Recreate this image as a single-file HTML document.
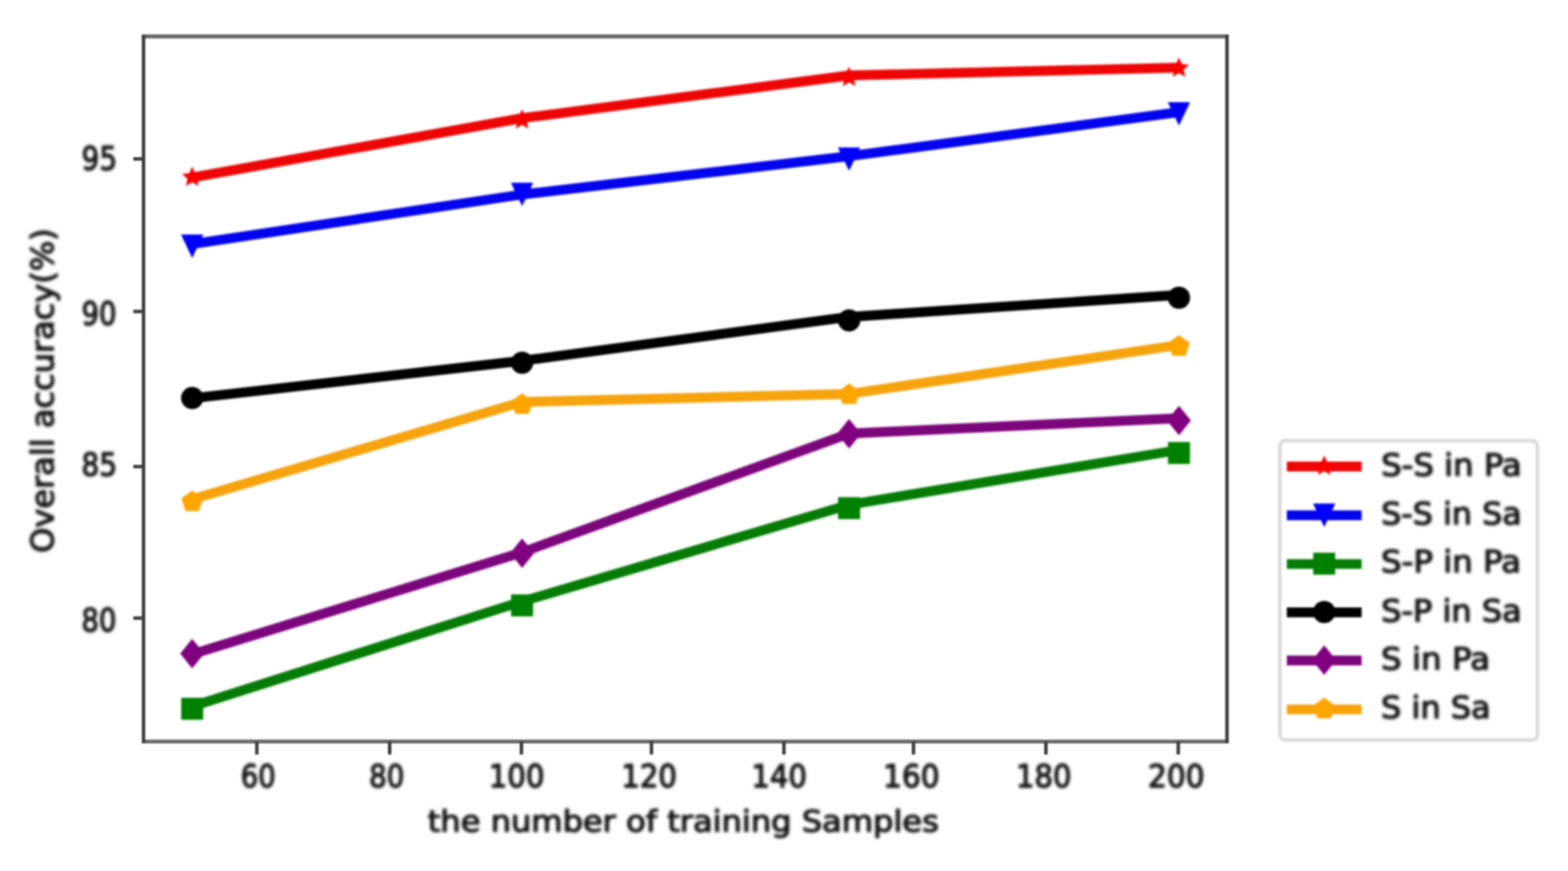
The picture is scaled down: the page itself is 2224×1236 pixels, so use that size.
<!DOCTYPE html>
<html lang="en"><head><meta charset="utf-8"><title>Overall accuracy vs. number of training samples</title>
<style>
html,body{margin:0;padding:0;background:#fff;}
body{width:2224px;height:1236px;overflow:hidden;}
svg{display:block;}
text{font-family:"DejaVu Sans","Liberation Sans",sans-serif;font-size:50px;fill:#141414;stroke:#141414;stroke-width:2.0;stroke-linejoin:round;text-rendering:geometricPrecision;}
</style></head><body>
<svg width="2224" height="1236" viewBox="0 0 2224 1236">
<defs><filter id="b" x="-2%" y="-2%" width="104%" height="104%" color-interpolation-filters="sRGB"><feGaussianBlur stdDeviation="1.9"/></filter><filter id="f" x="-2%" y="-2%" width="104%" height="104%" color-interpolation-filters="sRGB"><feGaussianBlur stdDeviation="1.0"/></filter><filter id="s" x="-2%" y="-2%" width="104%" height="104%" color-interpolation-filters="sRGB"><feGaussianBlur stdDeviation="1.8"/></filter></defs>
<rect width="2224" height="1236" fill="#fff"/>
<g filter="url(#f)">
<g stroke="#6a6a6a" stroke-width="5.6"><line x1="201" y1="51.6" x2="1742.9" y2="51.6"/><line x1="201" y1="1052.2" x2="1742.9" y2="1052.2"/></g>
<g stroke="#404040" stroke-width="5"><line x1="203.6" y1="49.6" x2="203.6" y2="1054.2"/><line x1="1740.3" y1="49.6" x2="1740.3" y2="1054.2"/></g>
<g stroke="#404040" stroke-width="5">
<line x1="364.3" y1="1052.2" x2="364.3" y2="1070.7"/>
<line x1="552.7" y1="1052.2" x2="552.7" y2="1070.7"/>
<line x1="739.6" y1="1052.2" x2="739.6" y2="1070.7"/>
<line x1="924" y1="1052.2" x2="924" y2="1070.7"/>
<line x1="1111.9" y1="1052.2" x2="1111.9" y2="1070.7"/>
<line x1="1295.7" y1="1052.2" x2="1295.7" y2="1070.7"/>
<line x1="1483.5" y1="1052.2" x2="1483.5" y2="1070.7"/>
<line x1="1671.2" y1="1052.2" x2="1671.2" y2="1070.7"/>
<line x1="189.1" y1="225.5" x2="203.6" y2="225.5"/>
<line x1="189.1" y1="442" x2="203.6" y2="442"/>
<line x1="189.1" y1="662.1" x2="203.6" y2="662.1"/>
<line x1="189.1" y1="877.1" x2="203.6" y2="877.1"/>
</g>
</g>
<g filter="url(#s)">
<polyline points="272.6,251.8 740.5,167.7 1204.3,107 1672.2,96" fill="none" stroke="#ee0606" stroke-width="13.9" stroke-linejoin="round"/>
<polygon points="272.6,236.2 276.74,245.81 287.15,246.77 279.29,253.67 281.59,263.88 272.6,258.54 263.61,263.88 265.91,253.67 258.05,246.77 268.46,245.81" fill="#f80000"/>
<polygon points="740.5,154.7 744.64,164.31 755.05,165.27 747.19,172.17 749.49,182.38 740.5,177.04 731.51,182.38 733.81,172.17 725.95,165.27 736.36,164.31" fill="#f80000"/>
<polygon points="1204.3,94.5 1208.44,104.11 1218.85,105.07 1210.99,111.97 1213.29,122.18 1204.3,116.84 1195.31,122.18 1197.61,111.97 1189.75,105.07 1200.16,104.11" fill="#f80000"/>
<polygon points="1672.2,81.3 1676.34,90.91 1686.75,91.87 1678.89,98.77 1681.19,108.98 1672.2,103.64 1663.21,108.98 1665.51,98.77 1657.65,91.87 1668.06,90.91" fill="#f80000"/>
<polyline points="272.6,346.3 740.5,276 1204.3,221.6 1672.2,159.2" fill="none" stroke="#0404ee" stroke-width="13.9" stroke-linejoin="round"/>
<polygon points="256.8,332.8 288.4,332.8 272.6,366.2" fill="#0000f8"/>
<polygon points="724.7,259.2 756.3,259.2 740.5,292.6" fill="#0000f8"/>
<polygon points="1188.5,209.2 1220.1,209.2 1204.3,242.6" fill="#0000f8"/>
<polygon points="1656.4,144.9 1688,144.9 1672.2,178.3" fill="#0000f8"/>
<polyline points="272.6,1002.3 740.5,853.5 1204.3,716.3 1672.2,638.5" fill="none" stroke="#067c06" stroke-width="13.9" stroke-linejoin="round"/>
<rect x="257" y="990.2" width="31.2" height="31.2" fill="#008000"/>
<rect x="724.9" y="843.5" width="31.2" height="31.2" fill="#008000"/>
<rect x="1188.7" y="705.5" width="31.2" height="31.2" fill="#008000"/>
<rect x="1656.6" y="627.2" width="31.2" height="31.2" fill="#008000"/>
<polyline points="272.6,565.2 740.5,512 1204.3,449.7 1672.2,418.5" fill="none" stroke="#000000" stroke-width="13.9" stroke-linejoin="round"/>
<circle cx="272.6" cy="564.8" r="15.8" fill="#000000"/>
<circle cx="740.5" cy="514.8" r="15.8" fill="#000000"/>
<circle cx="1204.3" cy="454.7" r="15.8" fill="#000000"/>
<circle cx="1672.2" cy="422.5" r="15.8" fill="#000000"/>
<polyline points="272.6,928.3 740.5,783.8 1204.3,615.2 1672.2,593.5" fill="none" stroke="#7c067c" stroke-width="13.9" stroke-linejoin="round"/>
<polygon points="272.6,906.4 289.6,927.4 272.6,948.4 255.6,927.4" fill="#800080"/>
<polygon points="740.5,764.1 757.5,785.1 740.5,806.1 723.5,785.1" fill="#800080"/>
<polygon points="1204.3,594.5 1221.3,615.5 1204.3,636.5 1187.3,615.5" fill="#800080"/>
<polygon points="1672.2,575.8 1689.2,596.8 1672.2,617.8 1655.2,596.8" fill="#800080"/>
<polyline points="272.6,708.3 740.5,570.4 1204.3,559 1672.2,489.5" fill="none" stroke="#f6a30e" stroke-width="13.9" stroke-linejoin="round"/>
<polygon points="272.6,696.1 287.91,707.22 282.06,725.23 263.14,725.23 257.29,707.22" fill="#ffa500"/>
<polygon points="740.5,558.1 755.81,569.22 749.96,587.23 731.04,587.23 725.19,569.22" fill="#ffa500"/>
<polygon points="1204.3,544.1 1219.61,555.22 1213.76,573.23 1194.84,573.23 1188.99,555.22" fill="#ffa500"/>
<polygon points="1672.2,475.5 1687.51,486.62 1681.66,504.63 1662.74,504.63 1656.89,486.62" fill="#ffa500"/>
<rect x="1815.3" y="625.3" width="365.5" height="425" rx="8" ry="8" fill="#fff" stroke="#d9d9d9" stroke-width="5"/>
<line x1="1825.2" y1="662.0" x2="1931.3" y2="662.0" stroke="#ee0606" stroke-width="13.9"/>
<polygon points="1878.2,646.2 1882.34,655.81 1892.75,656.77 1884.89,663.67 1887.19,673.88 1878.2,668.54 1869.21,673.88 1871.51,663.67 1863.65,656.77 1874.06,655.81" fill="#f80000"/>
<line x1="1825.2" y1="731.3" x2="1931.3" y2="731.3" stroke="#0404ee" stroke-width="13.9"/>
<polygon points="1862.4,714.6 1894,714.6 1878.2,748" fill="#0000f8"/>
<line x1="1825.2" y1="800.4" x2="1931.3" y2="800.4" stroke="#067c06" stroke-width="13.9"/>
<rect x="1862.6" y="784.3" width="31.2" height="31.2" fill="#008000"/>
<line x1="1825.2" y1="869.0" x2="1931.3" y2="869.0" stroke="#000000" stroke-width="13.9"/>
<circle cx="1878.2" cy="868.5" r="15.8" fill="#000000"/>
<line x1="1825.2" y1="937.3" x2="1931.3" y2="937.3" stroke="#7c067c" stroke-width="13.9"/>
<polygon points="1878.2,915.8 1895.2,936.8 1878.2,957.8 1861.2,936.8" fill="#800080"/>
<line x1="1825.2" y1="1006.6" x2="1931.3" y2="1006.6" stroke="#f6a30e" stroke-width="13.9"/>
<polygon points="1878.2,990 1893.51,1001.12 1887.66,1019.13 1868.74,1019.13 1862.89,1001.12" fill="#ffa500"/>
</g>
<g filter="url(#b)">
<text transform="matrix(0.7752 0 0 0.8947 341.48 1117.35)">60</text>
<text transform="matrix(0.7852 0 0 0.8944 523.57 1117.12)">80</text>
<text transform="matrix(0.8264 0 0 0.8968 693.31 1117.42)">100</text>
<text transform="matrix(0.8275 0 0 0.8962 881.13 1117.42)">120</text>
<text transform="matrix(0.8239 0 0 0.8911 1065.73 1117.43)">140</text>
<text transform="matrix(0.8379 0 0 0.8914 1252.61 1117.17)">160</text>
<text transform="matrix(0.825 0 0 0.8922 1440.93 1117.03)">180</text>
<text transform="matrix(0.8403 0 0 0.8906 1628.26 1117.24)">200</text>
<text transform="matrix(0.7873 0 0 0.9249 115.84 240.81)">95</text>
<text transform="matrix(0.774 0 0 0.917 115.77 460.95)">90</text>
<text transform="matrix(0.7937 0 0 0.8985 115.55 675.38)">85</text>
<text transform="matrix(0.7794 0 0 0.9142 115.47 896.28)">80</text>
<text transform="matrix(0.9104 0 0 0.8386 606.74 1180.08)">the number of training Samples</text>
<text transform="matrix(0 -0.9088 0.877 0 75.69 784.45)" stroke-width="1.5">Overall accuracy(%)</text>
<text transform="matrix(0.9169 0 0 0.8671 1959.01 675.27)">S-S in Pa</text>
<text transform="matrix(0.901 0 0 0.8675 1959.02 743.97)">S-S in Sa</text>
<text transform="matrix(0.9201 0 0 0.8666 1958.87 812.1)">S-P in Pa</text>
<text transform="matrix(0.9079 0 0 0.8683 1958.88 881.5)">S-P in Sa</text>
<text transform="matrix(0.9219 0 0 0.8666 1958.87 949.66)">S in Pa</text>
<text transform="matrix(0.9066 0 0 0.868 1958.86 1018.91)">S in Sa</text>
</g></svg></body></html>
